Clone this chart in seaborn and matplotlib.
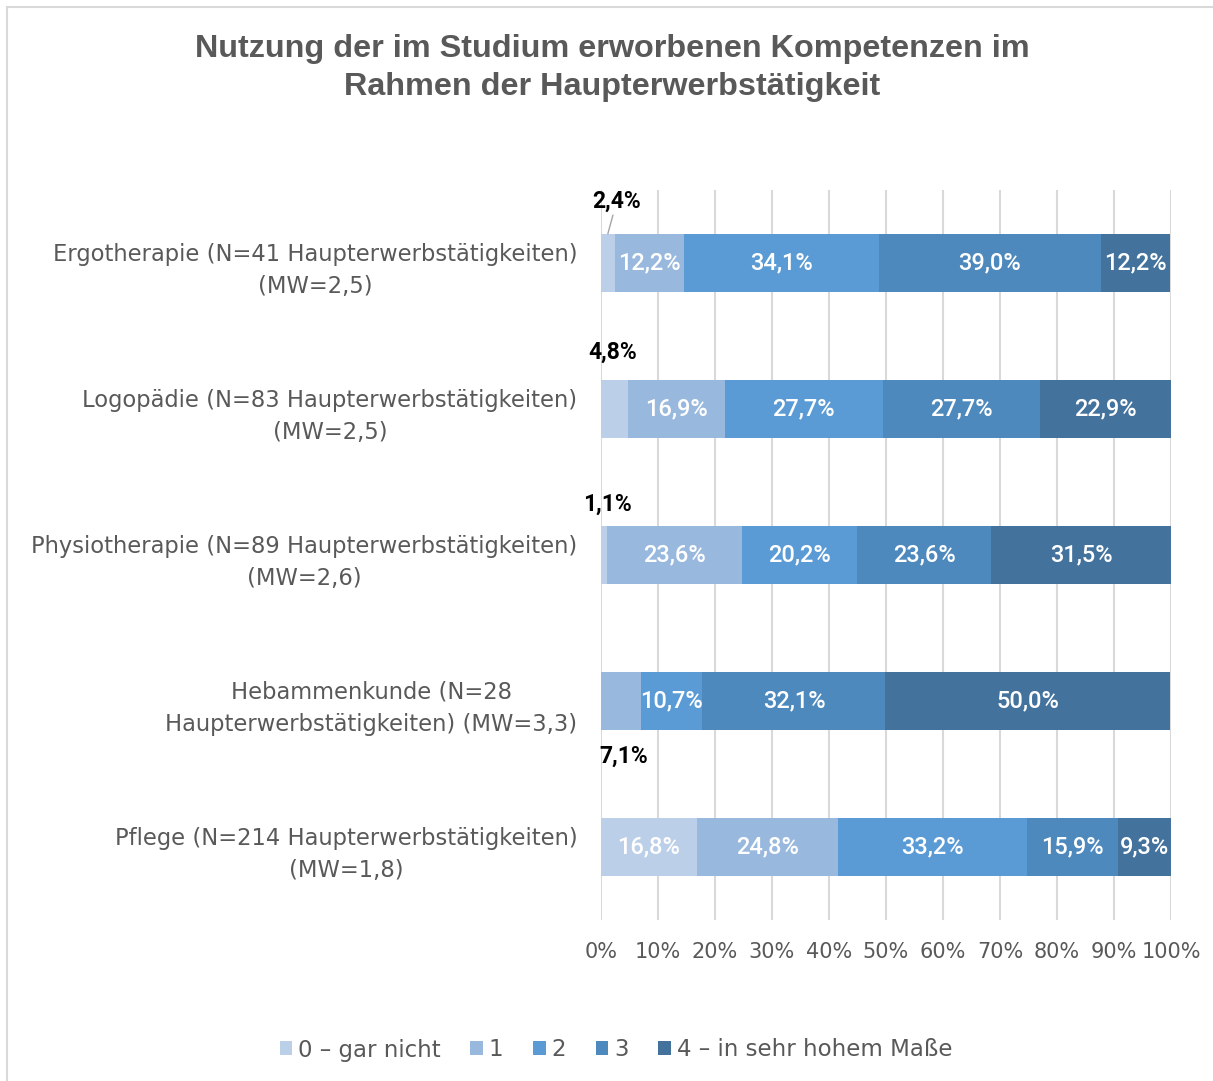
import pandas as pd
import numpy as np
import matplotlib
matplotlib.use("Agg")
import matplotlib.pyplot as plt
import matplotlib.ticker as mtick
from matplotlib.patches import Patch, Rectangle
import seaborn as sns

# Data (percent shares per answer level)
programs = [
    "Ergotherapie (N=41 Haupterwerbstätigkeiten)\n(MW=2,5)",
    "Logopädie (N=83 Haupterwerbstätigkeiten)\n(MW=2,5)",
    "Physiotherapie (N=89 Haupterwerbstätigkeiten)\n(MW=2,6)",
    "Hebammenkunde (N=28\nHaupterwerbstätigkeiten) (MW=3,3)",
    "Pflege (N=214 Haupterwerbstätigkeiten)\n(MW=1,8)",
]
levels = ["0 – gar nicht", "1", "2", "3", "4 – in sehr hohem Maße"]
level0 = [2.4, 4.8, 1.1, 0.0, 16.8]
level1 = [12.2, 16.9, 23.6, 7.1, 24.8]
level2 = [34.1, 27.7, 20.2, 10.7, 33.2]
level3 = [39.0, 27.7, 23.6, 32.1, 15.9]
level4 = [12.2, 22.9, 31.5, 50.0, 9.3]
x_ticks = [0, 10, 20, 30, 40, 50, 60, 70, 80, 90, 100]

title = "Nutzung der im Studium erworbenen Kompetenzen im\nRahmen der Haupterwerbstätigkeit"

colors = ["#bccfe9", "#99b8de", "#5b9bd5", "#4e89bd", "#43729d"]
grey = "#595959"
label_font = "DejaVu Sans"

# small segments labelled outside the bar: (row, level) -> pixel offset, leader line
outside = {
    (0, 0): (9, 33, True),
    (1, 0): (-2, 28, False),
    (2, 0): (3, 22, False),
    (3, 1): (3, -26, False),
}

df = pd.DataFrame({"program": programs})
for name, vals in zip(levels, [level0, level1, level2, level3, level4]):
    df[name] = vals
cum = df[levels].cumsum(axis=1)

fig = plt.figure(figsize=(12.13, 10.81), dpi=100)
ax = fig.add_axes([601 / 1213, 1 - 920 / 1081, 570 / 1213, 730 / 1081])

bar_h = 0.4
# draw cumulative totals from the longest down so shorter bars sit on top
for j in range(len(levels) - 1, -1, -1):
    sns.barplot(x=cum[levels[j]], y=df["program"], color=colors[j],
                width=bar_h, orient="h", ax=ax, saturation=1,
                linewidth=0, zorder=2)

for i in range(len(programs)):
    left = 0.0
    for j, name in enumerate(levels):
        v = df.loc[i, name]
        cx = left + v / 2
        left += v
        if v <= 0:
            continue
        txt = f"{v:.1f}".replace(".", ",") + "%"
        if (i, j) in outside:
            dx, dy, leader = outside[(i, j)]
            edge = i - bar_h / 2 if dy > 0 else i + bar_h / 2
            ax.annotate(txt, xy=(cx, edge), xytext=(dx, dy),
                        textcoords="offset pixels", ha="center", va="center",
                        fontsize=16.5, fontweight="bold", family="Roboto",
                        color="black", zorder=5,
                        arrowprops=dict(arrowstyle="-", color="#a6a6a6",
                                        lw=1, shrinkA=0, shrinkB=0) if leader else None)
        else:
            ax.text(cx, i, txt, ha="center", va="center", fontsize=17,
                    fontweight="medium", family="Roboto", color="white", zorder=5)

ax.set_xlim(0, 100)
ax.set_ylim(len(programs) - 0.5, -0.5)
ax.set_xticks(x_ticks)
ax.xaxis.set_major_formatter(mtick.PercentFormatter(decimals=0))
ax.grid(axis="x", color="#d9d9d9", linewidth=1.5)
ax.grid(axis="y", visible=False)
ax.set_axisbelow(True)
for s in ax.spines.values():
    s.set_visible(False)
ax.set_xlabel("")
ax.set_ylabel("")
ax.tick_params(axis="both", length=0)
ax.tick_params(axis="x", pad=16, labelsize=15, labelcolor=grey)
ax.tick_params(axis="y", pad=17, labelsize=16.3, labelcolor=grey)
for lbl in ax.get_xticklabels() + ax.get_yticklabels():
    lbl.set_family(label_font)
for lbl in ax.get_yticklabels():
    lbl.set_multialignment("center")
    lbl.set_linespacing(1.55)

fig.text(612 / 1213, 1 - 68 / 1081, title, ha="center", va="center",
         fontsize=23.3, fontweight="bold", color=grey, family="Liberation Sans",
         linespacing=1.35)

handles = [Patch(facecolor=c, edgecolor="none") for c in colors]
leg = fig.legend(handles, levels, loc="center", bbox_to_anchor=(616 / 1213, 1 - 1050 / 1081),
                 ncol=5, frameon=False, handlelength=0.55, handleheight=0.55,
                 handletextpad=0.25, columnspacing=1.3,
                 prop={"family": label_font, "size": 16.5})
for t in leg.get_texts():
    t.set_color(grey)

# light frame around the chart area
fig.patches.append(Rectangle((7 / 1213, -0.01), 1.0, 1 - 7 / 1081 + 0.01,
                             transform=fig.transFigure, fill=False,
                             edgecolor="#d9d9d9", linewidth=1.5, clip_on=False))

fig.savefig("out.png", dpi=100, facecolor="white")
